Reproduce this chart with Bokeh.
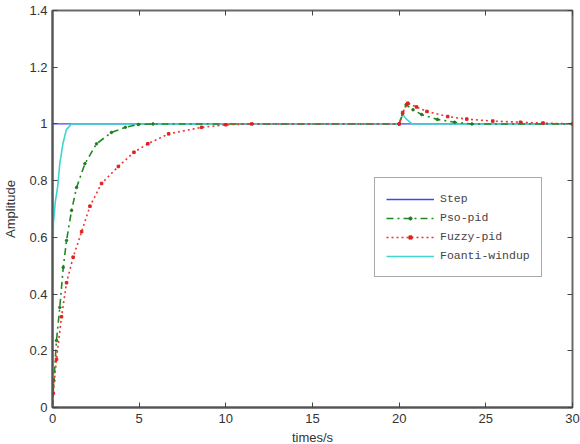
from bokeh.plotting import figure
from bokeh.models import (FixedTicker, CustomJSTickFormatter, LinearAxis, Legend, LegendItem, Range1d)
from bokeh.embed import file_html
from bokeh.resources import INLINE

# ---- data ----
step_t = [0, 0, 30]
step_y = [0, 1, 1]

pso_t = [0, 0.08, 0.23, 0.42, 0.62, 0.81, 1.1, 1.39, 1.87, 2.54, 3.4, 4.2, 4.95, 5.8,
         20.0, 20.2, 20.4, 20.8, 21.3, 22.2, 23.2, 24.2, 30]
pso_y = [0, 0.095, 0.236, 0.353, 0.494, 0.589, 0.695, 0.776, 0.86, 0.93, 0.97, 0.988, 0.998, 1.0,
         1.0, 1.036, 1.068, 1.05, 1.033, 1.016, 1.006, 1.0, 1.0]

fuzzy_t = [0, 0.04, 0.23, 0.52, 0.81, 1.19, 1.68, 2.16, 2.83, 3.8, 4.7, 5.5, 6.7, 8.6, 10, 11.5,
           20.0, 20.2, 20.5, 21.0, 21.6, 22.8, 23.9, 25.4, 27, 28.3, 30]
fuzzy_y = [0, 0.05, 0.17, 0.32, 0.44, 0.53, 0.62, 0.71, 0.79, 0.85, 0.9, 0.93, 0.965, 0.988, 0.997, 1.0,
           1.0, 1.04, 1.073, 1.06, 1.044, 1.026, 1.017, 1.01, 1.006, 1.003, 1.0]

aw_t = [0, 0, 0.02, 0.05, 0.1, 0.15, 0.3, 0.42, 0.6, 0.8, 1.1, 20.0, 20.2, 20.45, 20.75, 30]
aw_y = [0, 0.3, 0.5, 0.65, 0.68, 0.72, 0.78, 0.86, 0.93, 0.98, 1.0, 1.0, 1.033, 1.015, 1.0, 1.0]

x_ticks = [0, 5, 10, 15, 20, 25, 30]
y_ticks = [0, 0.2, 0.4, 0.6, 0.8, 1.0, 1.2, 1.4]
labels = ["Step", "Pso-pid", "Fuzzy-pid", "Foanti-windup"]

p = figure(frame_width=520, frame_height=397, output_backend="svg", toolbar_location=None,
           x_range=Range1d(0, 30), y_range=Range1d(0, 1.4),
           min_border_left=51, min_border_right=9, min_border_top=10, min_border_bottom=37)
p.background_fill_color = "white"
p.border_fill_color = "white"
p.outline_line_color = "#6a6a6a"
p.outline_line_width = 2
p.xgrid.visible = False
p.ygrid.visible = False

fmt = CustomJSTickFormatter(code="return tick.toFixed(1).replace(/\\.0$/, '');")

for ax in (p.xaxis[0], p.yaxis[0]):
    ax.axis_line_color = "#555555"
    ax.axis_line_width = 2
    ax.major_tick_in = 5
    ax.major_tick_out = 0
    ax.minor_tick_line_color = None
    ax.major_tick_line_color = "#444444"
    ax.major_label_text_font = "Liberation Sans"
    ax.major_label_text_font_size = "13px"
    ax.major_label_text_color = "#333333"
    ax.axis_label_text_font = "Liberation Sans"
    ax.axis_label_text_font_size = "13px"
    ax.axis_label_text_font_style = "normal"
    ax.axis_label_text_color = "#333333"

p.xaxis[0].ticker = FixedTicker(ticks=x_ticks)
p.yaxis[0].ticker = FixedTicker(ticks=y_ticks)
p.xaxis[0].formatter = fmt
p.yaxis[0].formatter = fmt
p.xaxis[0].axis_label = "times/s"
p.yaxis[0].axis_label = "Amplitude"
p.xaxis[0].major_label_standoff = 6
p.yaxis[0].major_label_standoff = 5
p.xaxis[0].axis_label_standoff = 4
p.yaxis[0].axis_label_standoff = 8

# mirrored ticks on top and right (no labels)
top = LinearAxis(ticker=FixedTicker(ticks=x_ticks), major_tick_in=5, major_tick_out=0,
                 minor_tick_line_color=None, axis_line_color=None,
                 major_tick_line_color="#444444",
                 major_label_text_color=None, major_label_standoff=0)
right = LinearAxis(ticker=FixedTicker(ticks=y_ticks), major_tick_in=5, major_tick_out=0,
                   minor_tick_line_color=None, axis_line_color=None,
                   major_tick_line_color="#444444",
                   major_label_text_color=None, major_label_standoff=0)
p.add_layout(top, "above")
p.add_layout(right, "right")

r_step = p.line(step_t, step_y, line_color="#4646f0", line_width=1.3)
r_aw = p.line(aw_t, aw_y, line_color="#3fd6d0", line_width=1.6)
r_pso = p.line(pso_t, pso_y, line_color="#1f8a1f", line_width=1.6, line_dash="7 4 2 4")
r_pso_m = p.scatter(pso_t[1:], pso_y[1:], marker="circle", size=2.5, fill_color="#1f7a1f", line_color="#1f7a1f")
r_fz = p.line(fuzzy_t, fuzzy_y, line_color="#ee3333", line_width=1.6, line_dash="2 3")
r_fz_m = p.scatter(fuzzy_t[1:], fuzzy_y[1:], marker="square", size=2.5, fill_color="#dd2222", line_color="#dd2222")

legend = Legend(items=[
    LegendItem(label=labels[0], renderers=[r_step]),
    LegendItem(label=labels[1], renderers=[r_pso, r_pso_m]),
    LegendItem(label=labels[2], renderers=[r_fz, r_fz_m]),
    LegendItem(label=labels[3], renderers=[r_aw]),
], location=(322, 130))
legend.label_text_font = "Liberation Mono"
legend.label_text_font_size = "11.5px"
legend.label_text_color = "#444444"
legend.glyph_width = 48
legend.glyph_height = 8
legend.label_height = 19
legend.label_standoff = 6
legend.spacing = 0
legend.padding = 11
legend.margin = 0
legend.border_line_color = "#555555"
legend.border_line_width = 1.5
legend.background_fill_color = "white"
legend.background_fill_alpha = 1
p.add_layout(legend, "center")

open("out.html", "w").write(file_html(p, INLINE))
